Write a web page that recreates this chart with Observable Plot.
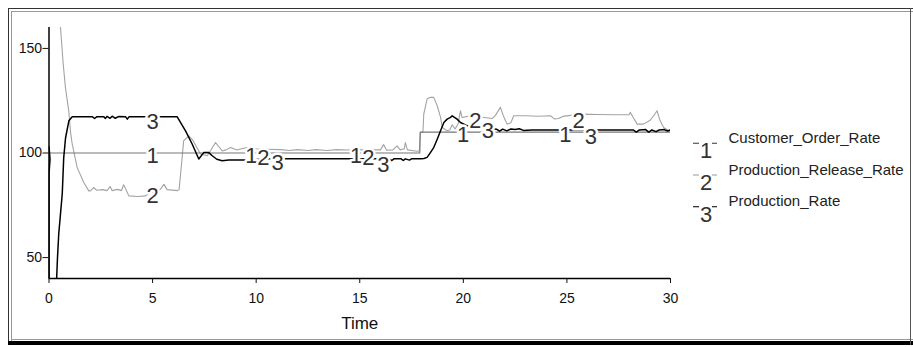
<!DOCTYPE html>
<html><head><meta charset="utf-8">
<script src="https://cdn.jsdelivr.net/npm/d3@7"></script>
<script src="https://cdn.jsdelivr.net/npm/@observablehq/plot@0.6"></script>
<style>
html,body{margin:0;padding:0;background:#fff;}
#wrap{position:relative;width:913px;height:347px;overflow:hidden;font-family:"Liberation Sans",Arial,sans-serif;}
#wrap svg{position:absolute;left:0;top:0;}
.b{position:absolute;pointer-events:none;}
</style></head><body>
<div id="wrap">
  <div class="b" style="left:8px;top:8px;width:1px;height:337px;background:#333"></div>
  <div class="b" style="left:11px;top:11px;width:1px;height:330px;background:#999"></div>
  <div class="b" style="left:8px;top:8px;width:905px;height:1px;background:#333"></div>
  <div class="b" style="left:11px;top:11px;width:902px;height:1px;background:#999"></div>
  <div class="b" style="left:11px;top:339px;width:902px;height:1px;background:#999"></div>
  <div class="b" style="left:8px;top:341px;width:905px;height:4px;background:#000"></div>
  <div class="b" style="left:910px;top:8px;width:1px;height:337px;background:#555"></div>
</div>
<script>
// ---- data ----
const seriesNames = ["Customer_Order_Rate", "Production_Release_Rate", "Production_Rate"];
const seriesNumbers = ["1", "2", "3"];
const seriesColors = ["#777777", "#a3a3a3", "#000000"];

const xTicks = [0, 5, 10, 15, 20, 25, 30];
const yTicks = [50, 100, 150];

// Customer_Order_Rate
const t1 = [0, 17.9, 17.92, 30];
const v1 = [100, 100, 110, 110];

// Production_Release_Rate
const t2 = [0.5,0.555,0.685,0.796,0.956,1.04,1.12,1.36,1.68,1.92,
  2.0,2.15,2.3,2.6,2.8,2.95,3.05,3.3,3.5,3.6,
  3.72,3.85,4.3,4.66,4.8,5.1,5.38,5.55,5.7,6.2,
  6.28,6.4,6.5,6.75,6.95,7.31,7.64,7.85,8.04,8.2,
  8.36,8.55,8.76,9.08,9.3,9.57,9.9,10.5,11.2,11.6,
  12.0,12.5,12.9,13.4,13.9,14.4,14.8,15.5,16.0,16.15,
  16.3,16.6,16.8,16.95,17.15,17.2,17.3,17.77,17.88,17.92,
  18.05,18.09,18.25,18.41,18.57,18.74,18.9,18.98,19.22,19.35,
  19.46,19.6,19.75,19.86,19.94,20.2,20.6,21.0,21.4,21.55,
  21.79,21.93,22.11,22.3,22.43,23.0,23.6,24.2,24.4,24.6,
  24.8,25.65,26.5,27.3,28.0,28.06,28.2,28.39,28.7,29.0,
  29.19,29.35,29.5,29.67,29.91,30];
const v2 = [168,160,142.7,131,120,110,104.3,93,85.9,81.9,
  81.9,83.5,82.2,82.5,82,84,82,82.6,82,84.8,
  82.5,79.5,79.2,79.5,80.5,81.5,82.7,85,82.5,82,
  82.5,95,105.8,108.2,106,99.5,98.7,102,105,103,
  101,101.5,102.6,101.4,102,102.6,102,101.8,101.6,101.2,
  101.6,101.2,101.6,101.2,101.6,101.4,101.6,101.5,101.5,104,
  101.3,101.5,103.4,101.5,102,105,101.5,100.8,101,109.8,
  110,118.6,125.8,126.6,126.6,122.6,117,112.2,110.6,111,
  113.5,111.5,114,120.2,117,117.5,117.5,117,116.5,118,
  121.8,117.8,113.8,114.5,117.8,117.8,117.6,117.8,116.3,116.5,
  117.5,118.6,118.4,118.3,118.3,119.5,117,113.8,113.8,115.5,
  117.8,120.2,115.4,112.2,110.6,110.5];

// Production_Rate
const t3 = [0,0.05,0,0,0.36,0.41,0.47,0.555,0.64,0.71,0.80,
  0.96,1.12,2.1,2.2,2.3,2.65,2.72,2.8,2.95,3.05,
  3.2,3.35,3.7,3.78,3.86,6.19,6.59,6.91,7.23,7.47,
  7.71,7.88,8.1,8.36,8.68,9.57,10.5,16.4,16.55,16.65,
  17.0,17.1,17.2,17.4,17.5,17.95,18.1,18.25,18.41,18.57,
  18.74,18.9,19.06,19.22,19.38,19.46,19.7,19.86,20.2,20.6,
  21.2,21.6,21.75,21.9,22.1,22.3,22.5,22.7,22.9,23.3,
  28.2,28.35,28.5,28.8,28.95,29.1,29.3,29.45,29.7,29.85,30];
const v3 = [103,97,90,20,38,50,61.3,70.9,80.5,97.7,107.3,
  115.4,117.3,117.3,116.5,117.3,117.3,116.5,117.5,116.6,117.6,
  116.6,117.4,117.3,116.2,117.3,117.3,110.6,104.3,97.1,100.2,
  100.2,98.7,97,96.3,96.6,96.6,97.2,97.2,96.4,97.2,
  97.2,96.4,97.2,96.6,97.2,97.2,97.4,97.9,100.2,102.6,
  106.6,110.6,114.6,116.2,117,117.8,116.2,114.6,113,112.3,
  111.8,111.4,110.4,111.4,110.6,111.5,111.2,111.6,110.8,111,
  111,110,111,111.2,110,111,110.2,111,111.2,110.5,111];

// number labels drawn on the lines
const labT1 = [5, 9.77, 14.82, 19.99, 24.93];
const labV1 = [100, 100, 100, 110, 110];
const labT2 = [5, 10.35, 15.42, 20.58, 25.57];
const labV2 = [81, 99.3, 99.3, 116.6, 116.6];
const labT3 = [5, 11.03, 16.14, 21.18, 26.16];
const labV3 = [116.5, 96.9, 95.7, 111.8, 109.3];

// ---- build tables ----
const rows = (ts, vs) => ts.map((t, i) => ({t, v: vs[i]}));
const s1 = rows(t1, v1), s2 = rows(t2, v2), s3 = rows(t3, v3);
const labels = [
  ...labT1.map((t, i) => ({t, v: labV1[i], n: seriesNumbers[0]})),
  ...labT2.map((t, i) => ({t, v: labV2[i], n: seriesNumbers[1]})),
  ...labT3.map((t, i) => ({t, v: labV3[i], n: seriesNumbers[2]}))
];

const font = "Liberation Sans, Arial, sans-serif";
const chart = Plot.plot({
  width: 913, height: 347,
  marginLeft: 48.5, marginRight: 243, marginTop: 27, marginBottom: 69,
  x: {domain: [0, 30]},
  y: {domain: [40, 160]},
  style: {fontFamily: font, background: "transparent", color: "#111"},
  marks: [
    Plot.line(s2, {x: "t", y: "v", stroke: seriesColors[1], strokeWidth: 1.1, clip: true}),
    Plot.line(s1, {x: "t", y: "v", stroke: seriesColors[0], strokeWidth: 1.1, clip: true}),
    Plot.line(s3, {x: "t", y: "v", stroke: seriesColors[2], strokeWidth: 1.5, clip: true}),
    Plot.text(labels, {x: "t", y: "v", text: "n", fontSize: 22, dy: 3, fill: "#333",
      stroke: "white", strokeWidth: 5, paintOrder: "stroke"}),
    Plot.ruleX([0], {stroke: "#000", strokeWidth: 1.5}),
    Plot.ruleY([40], {stroke: "#000", strokeWidth: 1.5}),
    Plot.axisY({ticks: yTicks, tickSize: 6, tickPadding: 1, fontSize: 14, label: null}),
    Plot.axisX({ticks: xTicks, tickSize: 5, tickPadding: 10, fontSize: 14, label: null}),
    Plot.text(["Time"], {text: d => d, frameAnchor: "bottom", dy: 50, fontSize: 17, fill: "#111"})
  ]
});
document.getElementById("wrap").appendChild(chart);

// ---- legend (right side) ----
const leg = d3.select("#wrap").append("svg")
  .attr("width", 913).attr("height", 347)
  .style("pointer-events", "none");
const dashColors = ["#555", "#aaa", "#222"];
seriesNames.forEach((name, i) => {
  const base = 158.3 + i * 31.7;
  const dashY = base - 15;
  const g = leg.append("g");
  g.append("line").attr("x1", 693).attr("x2", 699).attr("y1", dashY).attr("y2", dashY)
    .attr("stroke", dashColors[i]).attr("stroke-width", 1.2);
  g.append("line").attr("x1", 712).attr("x2", 717).attr("y1", dashY).attr("y2", dashY)
    .attr("stroke", dashColors[i]).attr("stroke-width", 1.2);
  g.append("text").attr("x", 706).attr("y", base).attr("text-anchor", "middle")
    .attr("font-family", font).attr("font-size", 22).attr("fill", "#333").text(seriesNumbers[i]);
  g.append("text").attr("x", 728.5).attr("y", base - 15.3).attr("text-anchor", "start")
    .attr("font-family", font).attr("font-size", 15).attr("fill", "#222").text(name);
});
</script>
</body></html>
